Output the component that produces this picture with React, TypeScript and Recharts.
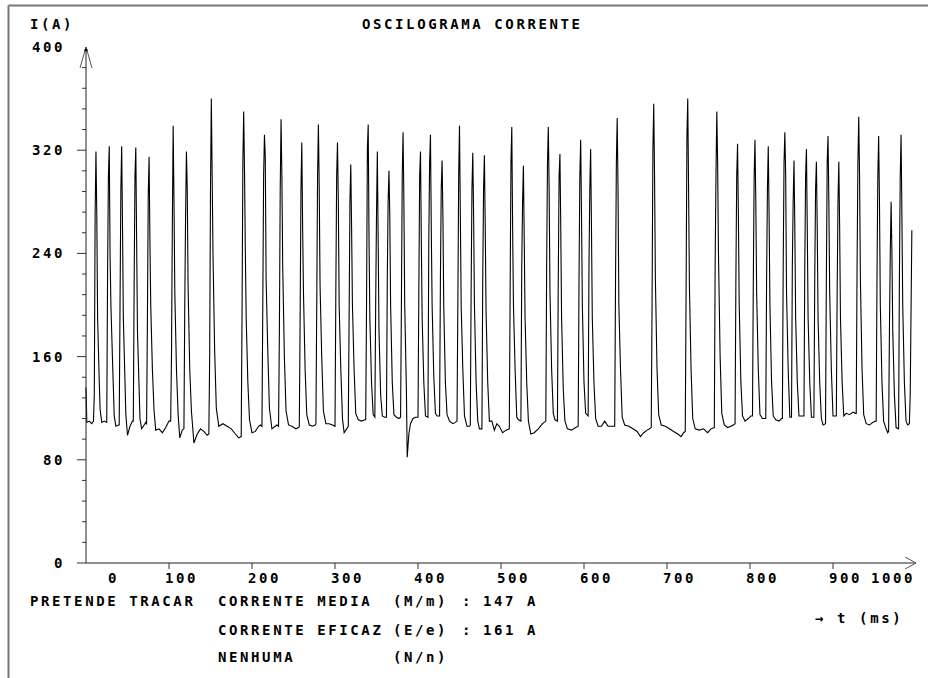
import { LineChart, Line, XAxis, YAxis } from 'recharts'

// oscilloscope trace, [t (ms), I (A)]
const trace0to250: [number, number][] = [
  [0, 136], [1, 109], [4, 110], [7, 108],
  [9, 110], [10, 130], [11, 270], [12, 319], [13, 270], [14, 190], [16, 140], [17, 119],
  [19, 109], [22, 110],
  [25, 109], [26, 224], [27, 300], [28, 323], [29, 239], [30, 200], [32, 156], [34, 114],
  [36, 106], [39, 107],
  [40, 107], [41, 200], [42, 290], [43, 323], [44, 260], [45, 190], [47, 140], [48, 115],
  [50, 99], [53, 106], [56, 110],
  [57, 110], [58, 215], [59, 300], [60, 322], [61, 250], [62, 180], [64, 135], [65, 112],
  [67, 104], [70, 107], [72, 109],
  [73, 108], [74, 190], [75, 285], [76, 315], [77, 250], [78, 200], [80, 150], [82, 118],
  [84, 103], [88, 104], [92, 101], [96, 105], [100, 110],
  [102, 110], [103, 160], [104, 260], [105, 339], [106, 280], [107, 210], [109, 150], [111, 115],
  [113, 97], [116, 103],
  [118, 104], [119, 200], [120, 270], [121, 319], [122, 290], [123, 215], [125, 150], [127, 118],
  [130, 93], [134, 100], [138, 104], [142, 102], [146, 99],
  [148, 100], [149, 160], [150, 290], [151, 360], [152, 300], [153, 240], [155, 165], [157, 120],
  [160, 106], [165, 108], [170, 106], [175, 104], [180, 100], [184, 97],
  [187, 98], [188, 193], [189, 311], [190, 350], [191, 303], [192, 240], [193, 190], [195, 140], [197, 111],
  [200, 101], [204, 102], [208, 106], [210, 107],
  [212, 106], [213, 200], [214, 300], [215, 332], [216, 315], [217, 220], [219, 165], [221, 120],
  [224, 104], [228, 106], [230, 107],
  [232, 106], [233, 180], [234, 290], [235, 344], [236, 300], [237, 230], [239, 160], [241, 118],
  [244, 107], [248, 106], [253, 104], [256, 105],
]

const trace250to500: [number, number][] = [
  [257, 106], [258, 190], [259, 290], [260, 326], [261, 260], [262, 210], [264, 150], [266, 115],
  [269, 107], [273, 106], [276, 107],
  [277, 108], [278, 200], [279, 300], [280, 340], [281, 290], [282, 215], [284, 160], [286, 118],
  [289, 108], [293, 108], [297, 107],
  [300, 106], [301, 210], [302, 300], [303, 326], [304, 280], [305, 200], [307, 150], [309, 112],
  [311, 101], [314, 104],
  [316, 106], [317, 190], [318, 280], [319, 309], [320, 260], [321, 200], [323, 150], [325, 116],
  [328, 111], [332, 110], [336, 111],
  [337, 111], [338, 200], [339, 320], [340, 340], [341, 250], [342, 190], [344, 140], [346, 115],
  [348, 113], [349, 200], [350, 270], [351, 319], [352, 250], [353, 180], [355, 130], [357, 114],
  [360, 113],
  [362, 113], [363, 220], [364, 280], [365, 304], [366, 270], [367, 200], [369, 140], [371, 115],
  [374, 113], [377, 112],
  [379, 113], [380, 200], [381, 300], [382, 334], [383, 280], [384, 200], [386, 135], [387, 82],
  [389, 100], [391, 108], [394, 112], [397, 113],
  [400, 113], [401, 210], [402, 300], [403, 319], [404, 250], [405, 190], [407, 140], [409, 114],
  [412, 113], [413, 250], [414, 310], [415, 332], [416, 260], [417, 200], [419, 145], [421, 116],
  [423, 114],
  [426, 114], [427, 220], [428, 290], [429, 312], [430, 270], [431, 200], [433, 140], [435, 115],
  [438, 110], [442, 108], [445, 109],
  [447, 110], [448, 200], [449, 300], [450, 339], [451, 270], [452, 200], [454, 150], [456, 114],
  [459, 106], [462, 106],
  [463, 107], [464, 210], [465, 290], [466, 318], [467, 270], [468, 200], [470, 140], [472, 110],
  [474, 104],
  [477, 104], [478, 220], [479, 290], [480, 316], [481, 260], [482, 195], [484, 140], [486, 110],
  [489, 110], [492, 103], [495, 108], [498, 106],
]

const trace500to750: [number, number][] = [
  [502, 101], [506, 103],
  [510, 104], [511, 210], [512, 310], [513, 338], [514, 260], [515, 200], [517, 150], [519, 113],
  [521, 111],
  [524, 110], [525, 230], [526, 280], [527, 308], [528, 250], [529, 190], [531, 140], [533, 110],
  [536, 100], [540, 101], [545, 104], [550, 108],
  [554, 110], [555, 230], [556, 310], [557, 338], [558, 290], [559, 210], [561, 150], [563, 116],
  [565, 111],
  [568, 110], [569, 220], [570, 300], [571, 317], [572, 260], [573, 190], [575, 135], [577, 110],
  [580, 104], [585, 103], [590, 105],
  [593, 106], [594, 220], [595, 300], [596, 328], [597, 270], [598, 200], [600, 140], [602, 116],
  [605, 114], [606, 230], [607, 290], [608, 321], [609, 260], [610, 190], [612, 140], [614, 112],
  [617, 106], [621, 106], [625, 110], [629, 106], [633, 106],
  [637, 106], [638, 220], [639, 310], [640, 345], [641, 290], [642, 200], [644, 150], [646, 113],
  [649, 107], [654, 106], [659, 104], [664, 102], [668, 98], [672, 101], [676, 103], [679, 104],
  [681, 105], [682, 200], [683, 320], [684, 356], [685, 300], [686, 220], [688, 150], [690, 115],
  [693, 107], [698, 106], [703, 104], [708, 102], [713, 100], [717, 98], [720, 101],
  [722, 102], [723, 210], [724, 330], [725, 360], [726, 290], [727, 215], [729, 150], [731, 112],
  [734, 104], [739, 103], [744, 104], [749, 101], [753, 104],
]

const trace750to1000: [number, number][] = [
  [757, 105], [758, 230], [759, 300], [760, 350], [761, 310], [762, 240], [764, 160], [766, 116],
  [769, 107], [773, 105], [777, 106], [780, 107],
  [782, 108], [783, 220], [784, 300], [785, 325], [786, 270], [787, 200], [789, 140], [791, 114],
  [794, 110], [798, 112], [801, 114],
  [803, 114], [804, 220], [805, 300], [806, 328], [807, 280], [808, 210], [810, 150], [812, 115],
  [815, 112], [818, 112],
  [819, 112], [820, 220], [821, 290], [822, 323], [823, 270], [824, 200], [826, 140], [828, 114],
  [831, 111], [835, 110], [838, 112],
  [839, 112], [840, 230], [841, 310], [842, 334], [843, 300], [844, 210], [846, 150], [848, 113],
  [850, 113], [851, 230], [852, 280], [853, 312], [854, 260], [855, 190], [857, 140], [859, 114],
  [862, 114],
  [865, 114], [866, 230], [867, 300], [868, 321], [869, 260], [870, 190], [872, 140], [874, 113],
  [877, 113], [878, 220], [879, 290], [880, 311], [881, 260], [882, 190], [884, 140], [886, 112],
  [888, 107],
  [891, 108], [892, 220], [893, 310], [894, 331], [895, 280], [896, 210], [898, 150], [900, 114],
  [904, 114], [905, 210], [906, 280], [907, 311], [908, 260], [909, 190], [911, 140], [913, 114],
  [916, 116], [920, 115], [924, 117], [927, 116],
  [928, 116], [929, 230], [930, 310], [931, 346], [932, 300], [933, 220], [935, 150], [937, 115],
  [940, 108], [944, 107], [948, 109], [951, 110],
  [952, 110], [953, 220], [954, 300], [955, 331], [956, 280], [957, 200], [959, 140], [961, 110],
  [964, 104], [966, 101],
  [967, 102], [968, 180], [969, 240], [970, 280], [971, 240], [972, 180], [974, 130], [976, 105],
  [979, 104], [980, 220], [981, 300], [982, 332], [983, 270], [984, 200], [986, 140], [988, 110],
  [990, 107], [992, 108], [993, 129], [995, 258],
]

const xTicks = [0, 100, 200, 300, 400, 500, 600, 700, 800, 900, 1000]
const yTicks = [0, 16, 32, 48, 64, 80, 96, 112, 128, 144, 160, 176, 192, 208, 224, 240, 256, 272, 288, 304, 320, 336, 352, 368, 384, 400]

const MEAN_A = 147
const RMS_A = 161

const FONT = {
  fontFamily: '"DejaVu Sans Mono", "Liberation Mono", monospace',
  fontWeight: 700,
  fontSize: 14,
  letterSpacing: 2.6,
  fill: '#000',
}

const data = [...trace0to250, ...trace250to500, ...trace500to750, ...trace750to1000].map(([t, a]) => ({ t, a }))

function YTick(props: any) {
  const { x, y, payload } = props
  const v = payload.value
  if (v === 400) {
    return (
      <g>
        <polyline points={`${x - 6},${y + 21} ${x},${y} ${x + 6},${y + 21}`} fill="none" stroke="#555" />
        <circle cx={x} cy={y + 3} r={1.6} fill="#000" />
        <text x={x - 21} y={y + 5} textAnchor="end" style={FONT}>{v}</text>
      </g>
    )
  }
  const major = v % 80 === 0
  return (
    <g>
      <line x1={x - (major ? 9 : 4)} x2={x} y1={y} y2={y} stroke="#333" />
      {major && <text x={x - 21} y={y + 5} textAnchor="end" style={FONT}>{v}</text>}
    </g>
  )
}

function XTick(props: any) {
  const { x, y, payload } = props
  const v = payload.value
  const labelX = v === 0 ? x + 22 : v === 1000 ? x - 45 : x - 4
  return (
    <g>
      {v === 1000 ? (
        <polyline points={`${x - 11},${y - 6} ${x},${y} ${x - 11},${y + 6}`} fill="none" stroke="#555" />
      ) : v !== 0 ? (
        <line x1={x} x2={x} y1={y} y2={y + 6} stroke="#333" />
      ) : null}
      <text x={labelX} y={y + 19.5} textAnchor="start" style={FONT}>{v}</text>
    </g>
  )
}

export default function App() {
  return (
    <div style={{ position: 'absolute', left: 0, top: 0, width: 928, height: 678, background: '#fff', overflow: 'hidden' }}>
      <LineChart width={928} height={678} data={data} margin={{ top: 47, right: 12, bottom: 85, left: 0 }}>
        <XAxis
          dataKey="t"
          type="number"
          domain={[0, 1000]}
          ticks={xTicks}
          interval={0}
          tickSize={0}
          tickMargin={0}
          height={30}
          axisLine={{ stroke: '#222' }}
          tickLine={false}
          tick={<XTick />}
        />
        <YAxis
          type="number"
          domain={[0, 400]}
          ticks={yTicks}
          interval={0}
          tickSize={0}
          tickMargin={0}
          width={86}
          axisLine={{ stroke: '#222' }}
          tickLine={false}
          tick={<YTick />}
        />
        <Line
          type="linear"
          dataKey="a"
          stroke="#000"
          strokeWidth={1.1}
          dot={false}
          isAnimationActive={false}
        />
      </LineChart>
      {/* screen text and frame */}
      <svg width={928} height={678} style={{ position: 'absolute', left: 0, top: 0, pointerEvents: 'none' }}>
        <line x1={8.5} y1={5.5} x2={928} y2={5.5} stroke="#777" strokeWidth={2} />
        <line x1={8.5} y1={5.5} x2={8.5} y2={678} stroke="#777" strokeWidth={2} />
        <text x={30} y={29} style={FONT}>I(A)</text>
        <text x={362} y={29} style={FONT}>OSCILOGRAMA CORRENTE</text>
        <text x={30} y={605.5} style={FONT}>PRETENDE TRACAR</text>
        <text x={218} y={605.5} style={FONT}>CORRENTE MEDIA</text>
        <text x={393} y={605.5} style={FONT}>(M/m)</text>
        <text x={462} y={605.5} style={FONT}>:</text>
        <text x={483} y={605.5} style={FONT}>{`${MEAN_A} A`}</text>
        <text x={218} y={634.5} style={FONT}>CORRENTE EFICAZ</text>
        <text x={393} y={634.5} style={FONT}>(E/e)</text>
        <text x={462} y={634.5} style={FONT}>:</text>
        <text x={483} y={634.5} style={FONT}>{`${RMS_A} A`}</text>
        <text x={218} y={661.5} style={FONT}>NENHUMA</text>
        <text x={393} y={661.5} style={FONT}>(N/n)</text>
        <text x={815} y={622.5} style={FONT}>→ t (ms)</text>
      </svg>
    </div>
  )
}
